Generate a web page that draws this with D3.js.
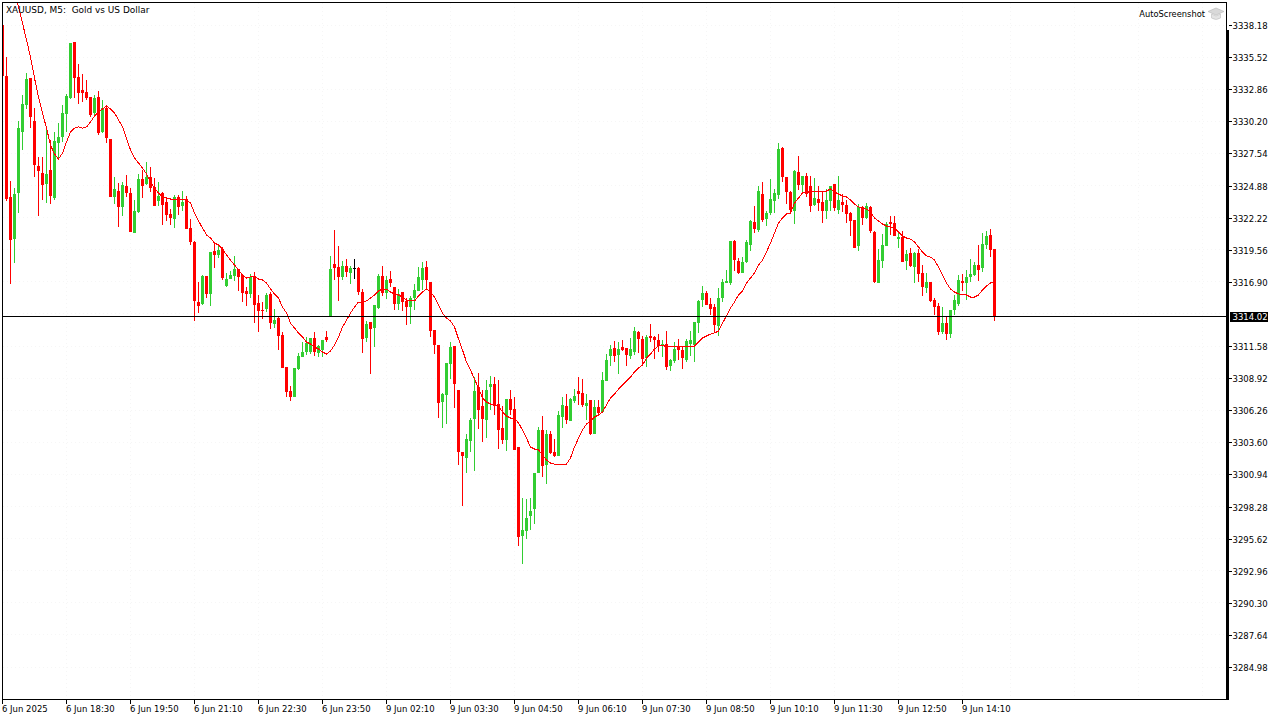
<!DOCTYPE html>
<html>
<head>
<meta charset="utf-8">
<script src="https://cdn.jsdelivr.net/npm/d3@7"></script>
<style>
html,body{margin:0;padding:0;background:#fff;overflow:hidden}
svg{display:block}
text{font-family:"DejaVu Sans",sans-serif;font-size:8.5px;fill:#000;white-space:pre}
</style>
</head>
<body>
<svg id="c" width="1280" height="720"></svg>
<script>
const priceTicks=[3338.18,3335.52,3332.86,3330.20,3327.54,3324.88,3322.22,3319.56,3316.90,3311.58,3308.92,3306.26,3303.60,3300.94,3298.28,3295.62,3292.96,3290.30,3287.64,3284.98];
const timeLabels=["6 Jun 2025","6 Jun 18:30","6 Jun 19:50","6 Jun 21:10","6 Jun 22:30","6 Jun 23:50","9 Jun 02:10","9 Jun 03:30","9 Jun 04:50","9 Jun 06:10","9 Jun 07:30","9 Jun 08:50","9 Jun 10:10","9 Jun 11:30","9 Jun 12:50","9 Jun 14:10"];
const lastPrice=3314.02;
const opens=[
3338.18,3333.95,3323.93,3320.44,3324.26,3329.31,3331.55,3333.79,3330.22,3326.49,
3325.91,3325.00,3326.16,3323.84,3328.40,3328.90,3330.80,3332.13,3336.77,3333.87,
3332.79,3332.63,3332.21,3330.89,3332.21,3329.31,3331.30,3328.73,3323.93,3324.42,
3323.10,3324.84,3324.26,3320.94,3322.68,3325.42,3325.00,3325.58,3324.75,3323.59,
3324.26,3323.51,3322.52,3322.10,3323.93,3323.18,3323.76,3321.36,3320.20,3315.22,
3315.06,3317.38,3315.89,3319.45,3319.12,3319.62,3316.55,3317.13,3317.38,3317.96,
3317.46,3316.14,3315.89,3317.38,3315.14,3314.56,3314.64,3315.89,3313.40,3313.90,
3312.49,3309.84,3307.85,3307.35,3309.67,3310.67,3311.08,3311.08,3312.24,3311.00,
3311.25,3312.33,3313.98,3318.37,3318.12,3317.30,3318.21,3317.63,3318.04,3318.04,
3316.05,3312.24,3313.57,3313.07,3314.73,3317.38,3315.97,3317.13,3316.47,3315.06,
3316.05,3315.31,3314.81,3315.56,3316.14,3317.05,3318.12,3316.88,3312.91,3311.66,
3306.94,3307.52,3310.09,3311.58,3307.93,3302.80,3302.30,3303.71,3305.53,3308.18,
3306.61,3305.45,3308.18,3308.43,3306.77,3304.78,3303.79,3307.19,3306.36,3303.21,
3295.83,3296.25,3297.49,3298.07,3301.05,3304.62,3301.72,3304.29,3302.80,3302.46,
3305.70,3306.61,3305.36,3307.02,3307.85,3307.68,3306.61,3307.10,3304.29,3306.53,
3306.11,3308.68,3310.75,3311.41,3310.83,3311.50,3311.41,3310.75,3311.08,3312.74,
3312.16,3310.58,3312.41,3312.33,3312.08,3311.58,3311.75,3309.92,3310.34,3311.50,
3311.25,3310.42,3311.75,3311.66,3313.48,3315.39,3315.97,3315.06,3314.81,3313.24,
3315.56,3316.80,3316.80,3320.28,3318.62,3317.63,3318.54,3319.95,3321.85,3321.19,
3324.17,3322.10,3322.60,3323.59,3324.09,3327.99,3325.58,3324.34,3322.77,3326.00,
3324.92,3325.67,3324.84,3323.26,3323.76,3323.51,3322.77,3323.59,3325.00,3322.85,
3323.51,3323.26,3322.60,3322.02,3319.87,3323.10,3322.19,3323.10,3321.03,3316.80,
3318.62,3319.87,3321.85,3321.77,3320.44,3320.61,3318.62,3319.29,3318.12,3319.29,
3317.63,3316.39,3316.88,3315.39,3314.89,3312.74,3313.48,3312.57,3314.56,3315.06,
3316.96,3316.80,3317.30,3317.46,3318.29,3318.04,3319.95,3320.78,3319.62];
const highs=[
3338.18,3335.53,3325.25,3324.67,3330.22,3332.38,3334.20,3333.79,3331.30,3327.24,
3327.24,3329.81,3328.65,3329.31,3330.06,3331.55,3332.46,3336.69,3336.77,3334.95,
3334.12,3333.62,3332.21,3332.38,3332.71,3331.96,3331.47,3328.73,3325.58,3325.09,
3325.17,3325.75,3324.67,3323.68,3325.83,3326.16,3326.83,3326.41,3325.50,3325.17,
3324.34,3323.93,3322.93,3324.09,3324.09,3324.42,3324.01,3322.10,3320.28,3316.88,
3317.46,3317.38,3319.37,3320.20,3319.95,3319.78,3317.63,3317.79,3319.04,3317.96,
3317.54,3316.47,3317.54,3317.71,3315.81,3315.22,3315.97,3316.05,3314.64,3313.98,
3312.74,3309.84,3308.26,3309.76,3311.00,3311.91,3312.33,3312.24,3312.74,3311.66,
3312.08,3312.82,3319.04,3321.19,3319.87,3318.62,3318.79,3318.21,3318.79,3318.12,
3316.30,3313.65,3313.57,3314.98,3317.54,3318.21,3317.38,3317.79,3316.47,3316.30,
3316.05,3315.56,3315.72,3316.72,3318.12,3318.54,3318.62,3316.88,3312.91,3311.66,
3307.68,3310.17,3311.91,3311.58,3307.93,3302.80,3304.29,3305.61,3309.01,3309.34,
3307.93,3308.76,3309.09,3309.01,3308.76,3306.61,3307.19,3307.93,3307.35,3303.21,
3298.98,3298.90,3298.98,3301.05,3304.87,3305.78,3304.62,3304.54,3303.87,3306.19,
3307.35,3307.60,3307.27,3308.01,3309.01,3308.84,3307.60,3307.10,3307.10,3307.10,
3309.42,3310.92,3311.66,3311.99,3311.91,3312.08,3311.41,3312.24,3313.15,3312.82,
3312.41,3312.49,3313.40,3312.41,3312.57,3312.08,3312.82,3310.50,3311.91,3312.16,
3311.58,3312.16,3312.82,3313.57,3315.39,3316.55,3316.14,3315.56,3315.06,3316.39,
3317.13,3317.88,3320.28,3320.36,3318.87,3318.95,3320.36,3322.02,3323.18,3324.84,
3325.17,3322.77,3325.42,3324.59,3328.40,3328.07,3325.58,3324.42,3326.16,3327.32,
3325.67,3325.91,3325.67,3325.50,3324.84,3324.34,3324.59,3324.84,3325.00,3325.67,
3324.17,3323.68,3322.68,3322.02,3323.35,3323.18,3323.43,3323.18,3321.11,3319.62,
3320.86,3321.85,3322.35,3322.35,3321.03,3321.11,3319.53,3319.70,3319.37,3319.62,
3318.29,3317.63,3316.88,3315.56,3315.14,3314.81,3314.07,3314.56,3315.81,3317.46,
3317.54,3317.88,3318.79,3318.54,3319.95,3320.94,3321.11,3321.28,3319.62];
const lows=[
3333.95,3323.59,3316.72,3318.46,3322.60,3327.82,3331.22,3329.64,3325.58,3322.35,
3323.68,3323.43,3323.35,3323.68,3326.99,3328.48,3329.31,3332.05,3332.13,3331.63,
3331.80,3331.96,3330.55,3330.55,3329.06,3329.23,3328.40,3323.93,3323.35,3321.44,
3322.35,3323.93,3321.03,3320.94,3322.60,3323.84,3324.92,3324.34,3323.18,3323.18,
3321.61,3321.94,3321.61,3321.36,3322.43,3322.77,3321.27,3319.95,3313.65,3314.31,
3314.98,3315.56,3314.89,3318.04,3318.87,3317.05,3316.47,3317.13,3316.96,3316.14,
3315.22,3314.89,3315.56,3313.48,3312.74,3313.82,3314.40,3312.99,3313.07,3311.25,
3309.76,3307.35,3307.02,3307.35,3309.59,3310.67,3310.83,3310.92,3310.75,3310.67,
3310.67,3311.91,3313.98,3317.05,3315.31,3317.05,3317.30,3316.72,3317.13,3315.81,
3311.00,3311.91,3309.26,3311.50,3314.64,3315.72,3315.47,3316.47,3314.56,3314.56,
3314.48,3313.32,3313.40,3314.56,3316.14,3316.22,3316.22,3312.33,3310.92,3305.61,
3304.78,3305.12,3308.84,3306.44,3301.72,3298.32,3301.05,3302.80,3301.22,3304.70,
3303.62,3303.95,3306.28,3305.86,3303.04,3303.46,3302.88,3305.86,3302.96,3295.01,
3293.51,3295.59,3296.33,3296.83,3301.05,3300.72,3300.14,3302.63,3302.38,3302.46,
3304.78,3305.12,3305.36,3306.86,3306.69,3306.53,3305.45,3304.20,3304.29,3305.78,
3306.11,3308.68,3309.92,3310.25,3309.26,3311.16,3309.92,3310.50,3310.83,3311.00,
3310.09,3309.84,3311.91,3310.50,3311.08,3310.67,3309.59,3309.51,3310.17,3310.42,
3309.67,3310.25,3310.75,3310.25,3312.66,3314.81,3314.98,3314.15,3312.74,3312.41,
3315.22,3316.80,3316.63,3317.79,3317.54,3317.63,3318.46,3319.45,3320.94,3321.03,
3321.85,3321.52,3322.43,3322.60,3323.76,3325.17,3323.35,3322.60,3321.69,3324.51,
3324.17,3323.93,3322.68,3323.18,3322.77,3321.77,3322.10,3322.77,3322.77,3322.52,
3322.68,3321.77,3320.69,3319.70,3319.45,3321.61,3322.10,3320.94,3316.80,3316.80,
3318.04,3319.87,3320.78,3320.69,3319.70,3318.54,3317.88,3318.12,3316.80,3316.88,
3315.72,3315.97,3315.22,3314.15,3312.49,3312.57,3312.08,3312.24,3314.15,3314.89,
3316.14,3315.39,3316.88,3317.38,3316.96,3317.71,3319.62,3318.95,3313.65];
const closes=[
3333.95,3323.76,3320.36,3324.17,3329.64,3331.63,3333.70,3330.55,3326.58,3326.08,
3324.92,3325.83,3324.01,3328.57,3328.90,3330.89,3332.30,3336.69,3333.79,3332.54,
3332.54,3332.13,3330.72,3332.13,3329.23,3331.30,3328.81,3323.93,3324.59,3323.10,
3324.92,3324.26,3321.03,3322.77,3325.42,3324.84,3325.58,3324.67,3323.18,3324.01,
3323.26,3322.43,3322.19,3323.93,3323.10,3323.51,3321.27,3320.20,3315.31,3314.89,
3317.38,3315.89,3319.37,3319.12,3319.53,3317.21,3317.13,3317.46,3317.96,3317.30,
3315.97,3315.89,3317.30,3314.98,3314.48,3314.48,3315.81,3313.48,3313.73,3312.41,
3309.76,3307.77,3307.35,3309.76,3310.75,3311.08,3311.83,3312.24,3311.08,3311.58,
3312.08,3312.08,3317.96,3318.04,3317.30,3318.21,3317.71,3318.04,3318.04,3316.05,
3312.16,3313.40,3312.99,3314.98,3317.38,3315.97,3317.05,3316.80,3315.06,3315.89,
3315.22,3314.81,3315.56,3316.22,3317.30,3318.04,3317.05,3312.82,3311.66,3306.86,
3307.60,3310.17,3311.50,3308.43,3302.80,3302.46,3303.87,3305.45,3307.85,3306.28,
3305.53,3307.93,3308.43,3306.61,3304.62,3303.79,3307.19,3306.28,3302.96,3295.75,
3296.33,3297.33,3297.91,3301.05,3304.62,3301.64,3304.29,3302.71,3302.46,3305.86,
3306.69,3305.45,3307.19,3307.44,3307.60,3306.69,3306.86,3304.29,3306.53,3306.03,
3308.76,3310.42,3311.33,3310.75,3311.33,3311.25,3310.83,3311.33,3312.82,3312.16,
3310.50,3312.33,3312.24,3312.08,3311.58,3311.75,3309.84,3310.42,3311.33,3311.25,
3310.58,3312.00,3312.08,3313.57,3315.31,3315.97,3314.98,3314.64,3313.32,3315.56,
3316.88,3316.96,3320.28,3318.70,3317.63,3318.54,3320.20,3321.94,3321.27,3324.42,
3322.02,3322.60,3323.76,3324.26,3327.90,3325.58,3324.34,3322.85,3326.08,3324.92,
3325.67,3324.17,3323.18,3323.84,3323.43,3322.77,3323.68,3324.84,3323.01,3323.68,
3323.26,3322.52,3321.94,3319.70,3323.10,3322.19,3323.18,3321.11,3316.88,3318.70,
3319.95,3321.69,3321.69,3320.69,3320.61,3318.54,3319.20,3318.21,3319.29,3317.54,
3316.47,3316.88,3315.31,3314.81,3312.74,3313.48,3312.57,3314.56,3315.39,3317.05,
3316.80,3317.30,3317.54,3318.29,3317.88,3320.03,3320.69,3319.53,3314.02];
const maStart=3;
const maValues=[
3341.08,3339.67,3338.34,3336.94,3335.53,3333.79,3332.21,3330.89,3329.64,3328.23,3327.49,3327.07,3327.57,
3328.48,3329.31,3329.64,3329.73,3329.64,3329.73,3330.14,3330.64,3330.97,3331.22,3331.47,3331.22,3330.89,
3330.31,3329.73,3328.81,3327.82,3327.16,3326.74,3326.33,3325.83,3325.17,3324.67,3324.26,3323.93,3323.84,
3323.76,3323.76,3323.76,3323.68,3323.68,3323.43,3322.60,3321.94,3321.36,3320.78,3320.53,3320.11,3319.95,
3319.62,3319.12,3318.70,3318.29,3317.88,3317.46,3317.21,3317.30,3317.38,3317.13,3317.05,3316.80,3316.30,
3315.89,3315.56,3314.81,3314.31,3313.48,3313.07,3312.66,3312.33,3311.91,3311.75,3311.50,3311.33,3311.08,
3310.92,3311.16,3311.66,3312.33,3313.15,3313.73,3314.31,3314.81,3315.22,3315.22,3315.31,3315.56,3315.81,
3316.14,3316.30,3316.30,3316.05,3315.89,3315.81,3315.64,3315.39,3315.31,3315.31,3315.72,3316.05,3316.30,
3316.05,3315.64,3314.98,3314.31,3313.90,3313.65,3313.15,3312.16,3311.25,3310.25,3309.59,3308.84,3308.10,
3307.27,3306.94,3306.77,3306.69,3306.61,3306.11,3305.78,3305.61,3305.61,3305.20,3304.62,3303.95,3303.21,
3303.04,3302.96,3302.55,3302.13,3301.88,3301.80,3301.80,3301.80,3301.80,3302.30,3303.21,3303.95,3304.62,
3305.12,3305.36,3305.70,3305.86,3306.11,3306.69,3307.27,3307.60,3308.01,3308.35,3308.68,3309.01,3309.42,
3309.76,3310.00,3310.58,3310.92,3311.33,3311.58,3311.66,3311.50,3311.50,3311.50,3311.50,3311.50,3311.50,
3311.50,3311.58,3311.91,3312.24,3312.41,3312.57,3312.66,3312.82,3313.48,3314.07,3314.73,3315.22,3315.81,
3316.14,3316.80,3317.21,3317.63,3318.29,3318.70,3319.37,3320.11,3320.94,3321.77,3322.19,3322.52,3322.60,
3323.43,3323.84,3324.26,3324.26,3324.42,3324.42,3324.42,3324.42,3324.42,3324.59,3324.34,3324.17,3324.01,
3323.93,3323.68,3323.35,3323.10,3323.01,3322.93,3322.68,3322.19,3321.94,3321.69,3321.52,3321.44,3321.36,
3321.03,3320.69,3320.53,3320.44,3320.20,3319.78,3319.37,3319.04,3318.95,3318.70,3318.12,3317.46,3316.80,
3316.30,3316.05,3315.89,3315.81,3315.81,3315.64,3315.64,3315.81,3316.22,3316.55,3316.80,3316.88];

const UP="#32CD32",DOWN="#FF0000";
const svg=d3.select("#c");
const x=d3.scaleLinear().domain([0,248]).range([2.5,994.5]);
const y=d3.scaleLinear().domain([3338.18,3284.98]).range([25,667]);
const plotL=3,plotT=3,plotR=1226,plotB=699;

svg.append("clipPath").attr("id","plot").append("rect").attr("x",plotL).attr("y",plotT).attr("width",plotR-plotL).attr("height",plotB-plotT);

// faint dotted grid
const tickIdx=timeLabels.map((d,i)=>i*16);
const grid=svg.append("g").attr("stroke","#f6f6f6").attr("stroke-dasharray","1,3").attr("shape-rendering","crispEdges");
grid.selectAll("line.h").data(priceTicks.concat([3314.24])).join("line").attr("x1",plotL).attr("x2",plotR).attr("y1",d=>Math.floor(y(d))+0.5).attr("y2",d=>Math.floor(y(d))+0.5);
grid.selectAll("line.v").data(tickIdx.slice(1).concat([252,268,284,300])).join("line").attr("y1",plotT).attr("y2",plotB).attr("x1",d=>x(d)).attr("x2",d=>x(d));

const plot=svg.append("g").attr("clip-path","url(#plot)");
const candles=d3.range(opens.length);
const col=i=>closes[i]>opens[i]?UP:closes[i]<opens[i]?DOWN:"#000";
const cg=plot.append("g").attr("shape-rendering","crispEdges");
cg.selectAll("rect.w").data(candles).join("rect").attr("class","w")
 .attr("x",i=>x(i)-0.5).attr("width",1)
 .attr("y",i=>Math.round(y(highs[i])))
 .attr("height",i=>Math.max(1,Math.round(y(lows[i]))-Math.round(y(highs[i]))))
 .attr("fill",col);
cg.selectAll("rect.b").data(candles).join("rect").attr("class","b")
 .attr("x",i=>x(i)-1.5).attr("width",3)
 .attr("y",i=>Math.round(y(Math.max(opens[i],closes[i]))))
 .attr("height",i=>Math.max(1,Math.round(y(Math.min(opens[i],closes[i])))-Math.round(y(Math.max(opens[i],closes[i])))))
 .attr("fill",col);

// moving average
const maLine=d3.line().x((d,i)=>x(i+maStart)).y(d=>y(d)).curve(d3.curveLinear);
plot.append("path").datum(maValues).attr("d",maLine).attr("fill","none").attr("stroke",DOWN).attr("stroke-width",1).attr("shape-rendering","crispEdges");

// current price line
const lastY=Math.floor(y(lastPrice));
svg.append("rect").attr("x",plotL).attr("y",lastY).attr("width",plotR-plotL).attr("height",1).attr("fill","#000").attr("shape-rendering","crispEdges");

// frame
const frame=svg.append("g").attr("fill","#000").attr("shape-rendering","crispEdges");
frame.append("rect").attr("x",2).attr("y",2).attr("width",1225).attr("height",1);
frame.append("rect").attr("x",2).attr("y",2).attr("width",1).attr("height",698);
frame.append("rect").attr("x",2).attr("y",699).attr("width",1225).attr("height",1);
frame.append("rect").attr("x",1226).attr("y",2).attr("width",1).attr("height",28);
frame.append("rect").attr("x",1226).attr("y",30).attr("width",3).attr("height",670);

// axes
const yAxis=d3.axisRight(y).tickValues(priceTicks).tickFormat(d3.format(".2f")).tickSize(3).tickPadding(1).offset(0.5);
const ya=svg.append("g").attr("transform","translate(1229,0)").call(yAxis);
const xAxis=d3.axisBottom(x).tickValues(tickIdx).tickFormat((d,i)=>timeLabels[i]).tickSize(4).tickPadding(1).offset(0);
const xa=svg.append("g").attr("transform","translate(0,700)").call(xAxis);
[ya,xa].forEach(a=>{a.select(".domain").remove();a.attr("font-family",null).attr("font-size",null);a.selectAll(".tick line").attr("stroke","#000").attr("shape-rendering","crispEdges");});
ya.selectAll(".tick text").attr("dy",null).attr("y",3.5).attr("x",3.5);
xa.selectAll(".tick text").attr("text-anchor","start").attr("x",-0.5).attr("dy",null).attr("y",12);

// last price tag
svg.append("rect").attr("x",1230).attr("y",312).attr("width",38).attr("height",10).attr("fill","#000").attr("shape-rendering","crispEdges");
svg.append("text").attr("x",1232.5).attr("y",320).style("fill","#fff").text(lastPrice.toFixed(2));

// title
svg.append("text").attr("x",6).attr("y",13).style("font-size","8.95px").text("XAUUSD, M5:  Gold vs US Dollar");
svg.append("text").attr("x",1205).attr("y",17).attr("text-anchor","end").style("font-size","8.3px").text("AutoScreenshot");

// graduation-cap mark
const cap=svg.append("g").attr("transform","translate(1208,7)");
cap.append("path").attr("d","M0,4.5 L8,1 L16,4.5 L8,8 Z").attr("fill","#d9d9d9").attr("stroke","#bdbdbd").attr("stroke-width",0.7);
cap.append("path").attr("d","M3.5,7 L3.5,11 Q8,14 12.5,11 L12.5,7 L8,9 Z").attr("fill","#e4e4e4").attr("stroke","#c4c4c4").attr("stroke-width",0.7);
</script>
</body>
</html>
